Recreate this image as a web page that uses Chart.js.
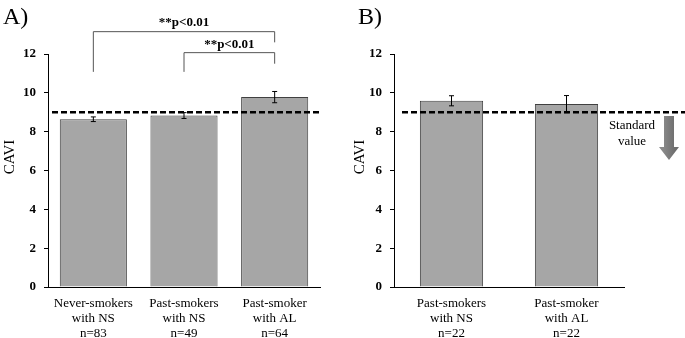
<!DOCTYPE html>
<html>
<head>
<meta charset="utf-8">
<script src="https://cdn.jsdelivr.net/npm/chart.js@4"></script>
<style>
  body { margin: 0; background: #fff; }
  #wrapA { position: absolute; left: 0; top: 0; width: 340px; height: 338px; }
  #wrapB { position: absolute; left: 340px; top: 0; width: 345px; height: 338px; }
</style>
</head>
<body>
<div id="wrapA"><canvas id="chartA"></canvas></div>
<div id="wrapB"><canvas id="chartB"></canvas></div>
<script>
const labelsA = [['Never-smokers', 'with NS', 'n=83'], ['Past-smokers', 'with NS', 'n=49'], ['Past-smoker', 'with AL', 'n=64']];
const caviA = [8.64, 8.83, 9.78];
const errA = [0.12, 0.15, 0.29];

const labelsB = [['Past-smokers', 'with NS', 'n=22'], ['Past-smoker', 'with AL', 'n=22']];
const caviB = [9.59, 9.42];
const errB = [0.26, 0.44];

const standardValue = 9;
const yTicks = [0, 2, 4, 6, 8, 10, 12];

const serif = 'Liberation Serif';

// error bars, dashed standard line, panel letter and axis title
const extras = {
  id: 'extras',
  afterDatasetsDraw(chart, args, opts) {
    const ctx = chart.ctx;
    const y = chart.scales.y;
    const area = chart.chartArea;
    const meta = chart.getDatasetMeta(0);
    const data = chart.data.datasets[0].data;

    ctx.save();
    ctx.strokeStyle = '#000';
    ctx.lineWidth = 1;
    meta.data.forEach((bar, i) => {
      const top = y.getPixelForValue(data[i] + opts.err[i]);
      const bot = y.getPixelForValue(data[i] - opts.err[i]);
      ctx.beginPath();
      ctx.moveTo(bar.x, top); ctx.lineTo(bar.x, bot);
      ctx.moveTo(bar.x - 2.5, top); ctx.lineTo(bar.x + 2.5, top);
      ctx.moveTo(bar.x - 2.5, bot); ctx.lineTo(bar.x + 2.5, bot);
      ctx.stroke();
    });

    // standard value line
    const ys = y.getPixelForValue(standardValue);
    ctx.setLineDash([6, 3]);
    ctx.lineWidth = 2.5;
    ctx.beginPath();
    ctx.moveTo(area.left + opts.lineStart, ys);
    ctx.lineTo(opts.lineEnd === 'canvas' ? chart.width : area.right, ys);
    ctx.stroke();
    ctx.setLineDash([]);

    ctx.fillStyle = '#000';
    ctx.font = '24px ' + serif;
    ctx.textBaseline = 'middle';
    ctx.textAlign = 'left';
    ctx.fillText(opts.letter, opts.letterX, 18);

    ctx.save();
    ctx.translate(opts.titleX, 157);
    ctx.rotate(-Math.PI / 2);
    ctx.font = '15px ' + serif;
    ctx.textAlign = 'center';
    ctx.fillText('CAVI', 0, 0);
    ctx.restore();
    ctx.restore();
  }
};

const brackets = {
  id: 'brackets',
  afterDraw(chart) {
    if (chart.canvas.id !== 'chartA') return;
    const ctx = chart.ctx;
    const y = chart.scales.y;
    const bars = chart.getDatasetMeta(0).data;
    const draw = (a, b, lineV, legA, legB, textV) => {
      const x1 = bars[a].x, x2 = bars[b].x;
      const yl = y.getPixelForValue(lineV);
      ctx.beginPath();
      ctx.moveTo(x1, y.getPixelForValue(legA));
      ctx.lineTo(x1, yl);
      ctx.lineTo(x2, yl);
      ctx.lineTo(x2, y.getPixelForValue(legB));
      ctx.stroke();
      ctx.fillText('**p<0.01', (x1 + x2) / 2, y.getPixelForValue(textV));
    };
    ctx.save();
    ctx.strokeStyle = '#555';
    ctx.lineWidth = 1;
    ctx.fillStyle = '#000';
    ctx.font = 'bold 13px ' + serif;
    ctx.textAlign = 'center';
    ctx.textBaseline = 'middle';
    draw(0, 2, 13.15, 11.08, 12.6, 13.63);
    draw(1, 2, 12.07, 11.08, 11.5, 12.48);
    ctx.restore();
  }
};

const arrow = {
  id: 'arrow',
  afterDraw(chart) {
    if (chart.canvas.id !== 'chartB') return;
    const ctx = chart.ctx;
    ctx.save();
    ctx.fillStyle = '#000';
    ctx.font = '13px ' + serif;
    ctx.textAlign = 'center';
    ctx.textBaseline = 'middle';
    ctx.fillText('Standard', 292, 126);
    ctx.fillText('value', 292, 142);
    const g = ctx.createLinearGradient(323, 0, 335, 0);
    g.addColorStop(0, '#8a8a8a');
    g.addColorStop(1, '#6e6e6e');
    ctx.fillStyle = g;
    ctx.beginPath();
    ctx.moveTo(324, 116);
    ctx.lineTo(334, 116);
    ctx.lineTo(334, 147);
    ctx.lineTo(339, 147);
    ctx.lineTo(329, 160);
    ctx.lineTo(319, 147);
    ctx.lineTo(324, 147);
    ctx.closePath();
    ctx.fill();
    ctx.restore();
  }
};

function makeChart(id, labels, values, errs, barPct, yWidth, rightPad, extraOpts) {
  return new Chart(document.getElementById(id), {
    type: 'bar',
    data: {
      labels: labels,
      datasets: [{
        data: values,
        backgroundColor: '#a6a6a6',
        borderColor: '#404040',
        borderWidth: 1,
        categoryPercentage: 1,
        barPercentage: barPct
      }]
    },
    options: {
      responsive: true,
      maintainAspectRatio: false,
      animation: false,
      layout: { padding: { top: 54, right: rightPad, left: 0, bottom: 0 } },
      scales: {
        x: {
          grid: { display: true, drawOnChartArea: false, drawTicks: false },
          border: { color: '#000', width: 1 },
          ticks: {
            color: '#000',
            font: { family: serif, size: 13, lineHeight: 15 / 13 },
            padding: 9,
            maxRotation: 0,
            autoSkip: false
          },
          afterFit: s => { s.height = 51; }
        },
        y: {
          min: 0,
          max: 12,
          afterBuildTicks: s => { s.ticks = yTicks.map(v => ({ value: v })); },
          grid: { drawOnChartArea: false, tickLength: 4, color: '#000' },
          border: { color: '#000', width: 1 },
          ticks: {
            color: '#000',
            font: { family: serif, size: 13, weight: 'bold' },
            padding: 8
          },
          afterFit: s => { s.width = yWidth; }
        }
      },
      plugins: {
        legend: { display: false },
        tooltip: { enabled: false },
        extras: Object.assign({ err: errs }, extraOpts)
      }
    },
    plugins: [extras, brackets, arrow]
  });
}

makeChart('chartA', labelsA, caviA, errA, 0.74, 48, 20,
  { letter: 'A)', letterX: 3, titleX: 10, lineStart: 4, lineEnd: 'area' });
makeChart('chartB', labelsB, caviB, errB, 0.55, 54, 61,
  { letter: 'B)', letterX: 18, titleX: 20, lineStart: 8, lineEnd: 'canvas' });
</script>
</body>
</html>
